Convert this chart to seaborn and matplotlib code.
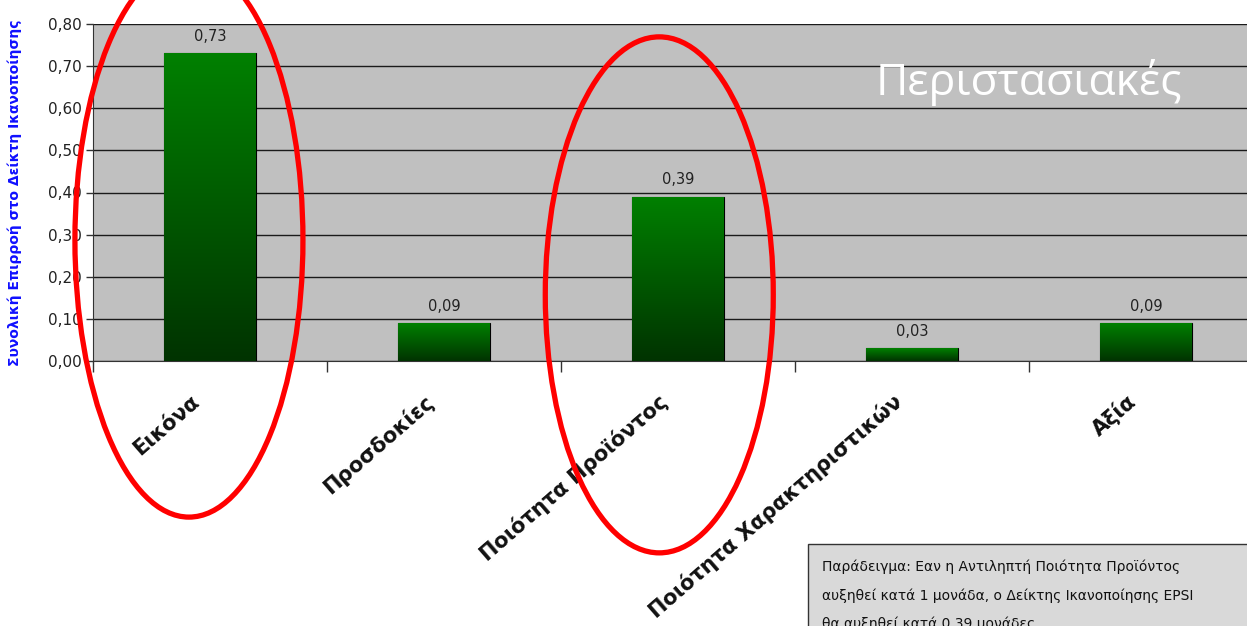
import numpy as np
import pandas as pd
import matplotlib
matplotlib.use("Agg")
import matplotlib.pyplot as plt
import seaborn as sns
from matplotlib.patches import Ellipse, Rectangle
from matplotlib.transforms import ScaledTranslation
from matplotlib.ticker import MultipleLocator, FuncFormatter

# data
categories = ["Εικόνα", "Προσδοκίες", "Ποιότητα Προϊόντος",
              "Ποιότητα Χαρακτηριστικών", "Αξία"]
values = [0.73, 0.09, 0.39, 0.03, 0.09]
ylabel = "Συνολική Επιρροή στο Δείκτη Ικανοποίησης"
badge = "Περιστασιακές"
note = ("Παράδειγμα: Εαν η Αντιληπτή Ποιότητα Προϊόντος\n"
        "αυξηθεί κατά 1 μονάδα, ο Δείκτης Ικανοποίησης EPSI\n"
        "θα αυξηθεί κατά 0,39 μονάδες")
highlighted = [0, 2]

df = pd.DataFrame({"factor": categories, "effect": values})

sns.set_style("white")
plt.rcParams["font.family"] = ["DejaVu Sans"]

W, H = 1247, 626
fig = plt.figure(figsize=(W / 100, H / 100), dpi=100)
ax = fig.add_axes([93 / W, 265 / H, 1170 / W, 337 / H])
ax.set_facecolor("#c0c0c0")

sns.barplot(data=df, x="factor", y="effect", ax=ax, width=0.39,
            color="#006400", edgecolor="black", linewidth=0.8, zorder=3)

# vertical green gradient inside each bar
grad = np.linspace(0, 1, 256).reshape(-1, 1)
cmap = matplotlib.colors.LinearSegmentedColormap.from_list(
    "g", ["#003300", "#008000"])
for p in ax.patches:
    x0, y0 = p.get_x(), p.get_y()
    w, h = p.get_width(), p.get_height()
    im = ax.imshow(grad, cmap=cmap, origin="lower", aspect="auto",
                   extent=[x0, x0 + w, y0, y0 + h], zorder=3.5)
    im.set_clip_path(p)
for p, v in zip(ax.patches, values):
    ax.text(p.get_x() + p.get_width() / 2, v + 0.022,
            f"{v:.2f}".replace(".", ","), ha="center", va="bottom",
            fontsize=10.5, color="#222222", zorder=5)

ax.set_xlim(-0.5, len(categories) - 0.5)
ax.set_ylim(0, 0.8)
ax.yaxis.set_major_locator(MultipleLocator(0.1))
ax.yaxis.set_major_formatter(FuncFormatter(lambda v, _: f"{v:.2f}".replace(".", ",")))
ax.grid(axis="y", color="#1a1a1a", linewidth=1.0, zorder=0)
ax.set_axisbelow(True)
for s in ["top", "right"]:
    ax.spines[s].set_visible(False)
ax.spines["left"].set_color("#333333")
ax.spines["bottom"].set_color("#333333")

ax.tick_params(axis="y", direction="out", length=5, width=1, color="#333333",
               labelsize=11, labelcolor="#222222", left=True, pad=3)
ax.set_xticks(np.arange(len(categories)))
ax.set_xticks(np.arange(len(categories) + 1) - 0.5, minor=True)
ax.tick_params(axis="x", which="minor", direction="out", length=8, width=1,
               color="#333333", bottom=True)
ax.tick_params(axis="x", which="major", length=0, pad=27)
ax.set_xticklabels(categories, rotation=41, ha="right", va="center",
                   rotation_mode="anchor", fontsize=15, fontweight="bold",
                   color="#111111")
shift = ScaledTranslation(-13 / 100, 0, fig.dpi_scale_trans)
for lab in ax.get_xticklabels():
    lab.set_transform(lab.get_transform() + shift)
ax.set_xlabel("")
ax.set_ylabel(ylabel, color="#1010ff", fontsize=10, fontweight="bold")
ax.yaxis.set_label_coords(-0.061, 0.5)

ax.text(0.80, 0.825, badge, transform=ax.transAxes, ha="center", va="center",
        fontsize=32, color="white", family=["Open Sans", "DejaVu Sans"],
        zorder=6)

# red ellipses around the highlighted factors (sizes in inches)
ell_specs = [(-0.09, 0.287, 2.28, 5.54, 0), (-0.08, 0.157, 2.28, 5.16, 0)]
for idx, (dx, yc, w, h, ang) in zip(highlighted, ell_specs):
    tr = fig.dpi_scale_trans + ScaledTranslation(idx + dx, yc, ax.transData)
    e = Ellipse((0, 0), w, h, angle=ang, transform=tr, fill=False,
                edgecolor="red", linewidth=3.8, clip_on=False, zorder=10)
    fig.add_artist(e)

# note box, runs off the bottom-right corner
fig.add_artist(Rectangle((808 / W, -20 / H), 460 / W, (H - 544 + 20) / H,
                         transform=fig.transFigure, facecolor="#d9d9d9",
                         edgecolor="#333333", linewidth=1, zorder=8))
fig.text(822 / W, 1 - 560 / H, note, ha="left", va="top",
         fontsize=10, linespacing=2.2, color="#111111", zorder=9)

fig.savefig("out.png", dpi=100)
